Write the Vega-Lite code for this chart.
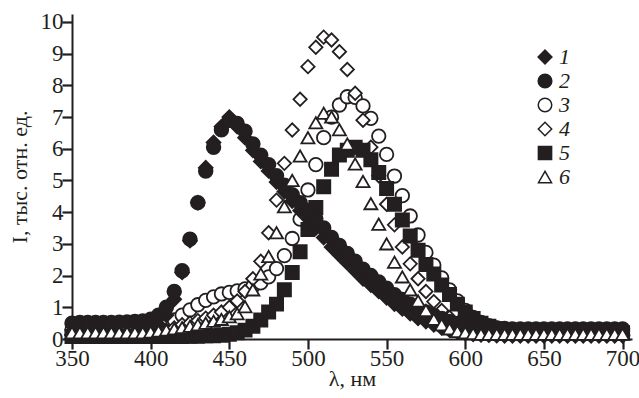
{
  "$schema": "https://vega.github.io/schema/vega-lite/v6.json",
  "width": 560,
  "height": 325,
  "autosize": "none",
  "padding": {"left": 72, "top": 14, "right": 7, "bottom": 59},
  "background": "white",
  "config": {
    "view": {"stroke": null},
    "font": "Liberation Serif, Times New Roman, serif",
    "axis": {
      "domainColor": "#231f20",
      "domainWidth": 2,
      "tickColor": "#231f20",
      "tickOpacity": 1,
      "tickWidth": 2.2,
      "tickSize": 10,
      "ticks": true,
      "zindex": 1,
      "grid": false,
      "labelFont": "Liberation Serif, Times New Roman, serif",
      "labelFontSize": 23,
      "labelColor": "#231f20",
      "titleFont": "Liberation Serif, Times New Roman, serif",
      "titleFontSize": 22,
      "titleFontWeight": "normal",
      "titleColor": "#231f20"
    }
  },
  "data": {
    "values": [
      {"s":"3","x":350,"y":0.3},{"s":"3","x":355,"y":0.3},{"s":"3","x":360,"y":0.3},{"s":"3","x":365,"y":0.3},{"s":"3","x":370,"y":0.3},{"s":"3","x":375,"y":0.3},{"s":"3","x":380,"y":0.3},{"s":"3","x":385,"y":0.32},{"s":"3","x":390,"y":0.33},{"s":"3","x":395,"y":0.35},
      {"s":"3","x":400,"y":0.38},{"s":"3","x":405,"y":0.42},{"s":"3","x":410,"y":0.5},{"s":"3","x":415,"y":0.6},{"s":"3","x":420,"y":0.75},{"s":"3","x":425,"y":0.92},{"s":"3","x":430,"y":1.08},{"s":"3","x":435,"y":1.22},{"s":"3","x":440,"y":1.33},{"s":"3","x":445,"y":1.42},
      {"s":"3","x":450,"y":1.47},{"s":"3","x":455,"y":1.52},{"s":"3","x":460,"y":1.58},{"s":"3","x":465,"y":1.66},{"s":"3","x":470,"y":1.77},{"s":"3","x":475,"y":1.96},{"s":"3","x":480,"y":2.22},{"s":"3","x":485,"y":2.63},{"s":"3","x":490,"y":3.17},{"s":"3","x":495,"y":3.78},
      {"s":"3","x":500,"y":4.7},{"s":"3","x":505,"y":5.5},{"s":"3","x":510,"y":6.35},{"s":"3","x":515,"y":7.0},{"s":"3","x":520,"y":7.38},{"s":"3","x":525,"y":7.64},{"s":"3","x":530,"y":7.62},{"s":"3","x":535,"y":7.35},{"s":"3","x":540,"y":6.96},{"s":"3","x":545,"y":6.4},
      {"s":"3","x":550,"y":5.82},{"s":"3","x":555,"y":5.14},{"s":"3","x":560,"y":4.52},{"s":"3","x":565,"y":3.88},{"s":"3","x":570,"y":3.28},{"s":"3","x":575,"y":2.73},{"s":"3","x":580,"y":2.33},{"s":"3","x":585,"y":1.93},{"s":"3","x":590,"y":1.55},{"s":"3","x":595,"y":1.2},
      {"s":"3","x":600,"y":0.9},{"s":"3","x":605,"y":0.68},{"s":"3","x":610,"y":0.52},{"s":"3","x":615,"y":0.42},{"s":"3","x":620,"y":0.35},{"s":"3","x":625,"y":0.3},{"s":"3","x":630,"y":0.27},{"s":"3","x":635,"y":0.25},{"s":"3","x":640,"y":0.25},{"s":"3","x":645,"y":0.25},
      {"s":"3","x":650,"y":0.25},{"s":"3","x":655,"y":0.25},{"s":"3","x":660,"y":0.25},{"s":"3","x":665,"y":0.25},{"s":"3","x":670,"y":0.25},{"s":"3","x":675,"y":0.25},{"s":"3","x":680,"y":0.25},{"s":"3","x":685,"y":0.25},{"s":"3","x":690,"y":0.25},{"s":"3","x":695,"y":0.25},{"s":"3","x":700,"y":0.25},

      {"s":"4","x":350,"y":0.15},{"s":"4","x":355,"y":0.15},{"s":"4","x":360,"y":0.15},{"s":"4","x":365,"y":0.15},{"s":"4","x":370,"y":0.15},{"s":"4","x":375,"y":0.15},{"s":"4","x":380,"y":0.15},{"s":"4","x":385,"y":0.15},{"s":"4","x":390,"y":0.15},{"s":"4","x":395,"y":0.15},
      {"s":"4","x":400,"y":0.18},{"s":"4","x":405,"y":0.22},{"s":"4","x":410,"y":0.28},{"s":"4","x":415,"y":0.35},{"s":"4","x":420,"y":0.45},{"s":"4","x":425,"y":0.5},{"s":"4","x":430,"y":0.58},{"s":"4","x":435,"y":0.66},{"s":"4","x":440,"y":0.75},{"s":"4","x":445,"y":0.85},
      {"s":"4","x":450,"y":1.0},{"s":"4","x":455,"y":1.2},{"s":"4","x":460,"y":1.5},{"s":"4","x":465,"y":1.9},{"s":"4","x":470,"y":2.45},{"s":"4","x":475,"y":3.35},{"s":"4","x":480,"y":4.38},{"s":"4","x":485,"y":5.54},{"s":"4","x":490,"y":6.59},{"s":"4","x":495,"y":7.56},
      {"s":"4","x":500,"y":8.59},{"s":"4","x":505,"y":9.2},{"s":"4","x":510,"y":9.52},{"s":"4","x":515,"y":9.43},{"s":"4","x":520,"y":9.06},{"s":"4","x":525,"y":8.5},{"s":"4","x":530,"y":7.75},{"s":"4","x":535,"y":6.9},{"s":"4","x":540,"y":6.05},{"s":"4","x":545,"y":5.15},
      {"s":"4","x":550,"y":4.25},{"s":"4","x":555,"y":3.6},{"s":"4","x":560,"y":2.9},{"s":"4","x":565,"y":2.37},{"s":"4","x":570,"y":1.9},{"s":"4","x":575,"y":1.5},{"s":"4","x":580,"y":1.18},{"s":"4","x":585,"y":0.9},{"s":"4","x":590,"y":0.68},{"s":"4","x":595,"y":0.5},
      {"s":"4","x":600,"y":0.38},{"s":"4","x":605,"y":0.28},{"s":"4","x":610,"y":0.22},{"s":"4","x":615,"y":0.18},{"s":"4","x":620,"y":0.16},{"s":"4","x":625,"y":0.15},{"s":"4","x":630,"y":0.15},{"s":"4","x":635,"y":0.15},{"s":"4","x":640,"y":0.15},{"s":"4","x":645,"y":0.15},
      {"s":"4","x":650,"y":0.15},{"s":"4","x":655,"y":0.15},{"s":"4","x":660,"y":0.15},{"s":"4","x":665,"y":0.15},{"s":"4","x":670,"y":0.15},{"s":"4","x":675,"y":0.15},{"s":"4","x":680,"y":0.15},{"s":"4","x":685,"y":0.15},{"s":"4","x":690,"y":0.15},{"s":"4","x":695,"y":0.15},{"s":"4","x":700,"y":0.15},

      {"s":"5","x":350,"y":0.08},{"s":"5","x":355,"y":0.08},{"s":"5","x":360,"y":0.08},{"s":"5","x":365,"y":0.08},{"s":"5","x":370,"y":0.08},{"s":"5","x":375,"y":0.08},{"s":"5","x":380,"y":0.08},{"s":"5","x":385,"y":0.08},{"s":"5","x":390,"y":0.08},{"s":"5","x":395,"y":0.08},
      {"s":"5","x":400,"y":0.08},{"s":"5","x":405,"y":0.08},{"s":"5","x":410,"y":0.08},{"s":"5","x":415,"y":0.08},{"s":"5","x":420,"y":0.08},{"s":"5","x":425,"y":0.09},{"s":"5","x":430,"y":0.09},{"s":"5","x":435,"y":0.1},{"s":"5","x":440,"y":0.1},{"s":"5","x":445,"y":0.12},
      {"s":"5","x":450,"y":0.15},{"s":"5","x":455,"y":0.2},{"s":"5","x":460,"y":0.28},{"s":"5","x":465,"y":0.4},{"s":"5","x":470,"y":0.6},{"s":"5","x":475,"y":0.85},{"s":"5","x":480,"y":1.1},{"s":"5","x":485,"y":1.55},{"s":"5","x":490,"y":2.1},{"s":"5","x":495,"y":2.75},
      {"s":"5","x":500,"y":3.45},{"s":"5","x":505,"y":4.15},{"s":"5","x":510,"y":4.8},{"s":"5","x":515,"y":5.35},{"s":"5","x":520,"y":5.8},{"s":"5","x":525,"y":5.95},{"s":"5","x":530,"y":6.05},{"s":"5","x":535,"y":5.95},{"s":"5","x":540,"y":5.65},{"s":"5","x":545,"y":5.25},
      {"s":"5","x":550,"y":4.75},{"s":"5","x":555,"y":4.25},{"s":"5","x":560,"y":3.75},{"s":"5","x":565,"y":3.25},{"s":"5","x":570,"y":2.8},{"s":"5","x":575,"y":2.35},{"s":"5","x":580,"y":2.05},{"s":"5","x":585,"y":1.7},{"s":"5","x":590,"y":1.4},{"s":"5","x":595,"y":1.1},
      {"s":"5","x":600,"y":0.85},{"s":"5","x":605,"y":0.65},{"s":"5","x":610,"y":0.5},{"s":"5","x":615,"y":0.4},{"s":"5","x":620,"y":0.32},{"s":"5","x":625,"y":0.27},{"s":"5","x":630,"y":0.24},{"s":"5","x":635,"y":0.22},{"s":"5","x":640,"y":0.2},{"s":"5","x":645,"y":0.2},
      {"s":"5","x":650,"y":0.2},{"s":"5","x":655,"y":0.2},{"s":"5","x":660,"y":0.2},{"s":"5","x":665,"y":0.2},{"s":"5","x":670,"y":0.2},{"s":"5","x":675,"y":0.2},{"s":"5","x":680,"y":0.2},{"s":"5","x":685,"y":0.2},{"s":"5","x":690,"y":0.2},{"s":"5","x":695,"y":0.2},{"s":"5","x":700,"y":0.2},

      {"s":"1","x":350,"y":0.12},{"s":"1","x":355,"y":0.12},{"s":"1","x":360,"y":0.12},{"s":"1","x":365,"y":0.13},{"s":"1","x":370,"y":0.13},{"s":"1","x":375,"y":0.14},{"s":"1","x":380,"y":0.15},{"s":"1","x":385,"y":0.17},{"s":"1","x":390,"y":0.2},{"s":"1","x":395,"y":0.24},
      {"s":"1","x":400,"y":0.3},{"s":"1","x":405,"y":0.45},{"s":"1","x":410,"y":0.75},{"s":"1","x":415,"y":1.25},{"s":"1","x":420,"y":2.1},{"s":"1","x":425,"y":3.1},{"s":"1","x":430,"y":4.3},{"s":"1","x":435,"y":5.4},{"s":"1","x":440,"y":6.2},{"s":"1","x":445,"y":6.7},
      {"s":"1","x":450,"y":7.0},{"s":"1","x":455,"y":6.7},{"s":"1","x":460,"y":6.35},{"s":"1","x":465,"y":5.95},{"s":"1","x":470,"y":5.6},{"s":"1","x":475,"y":5.3},{"s":"1","x":480,"y":4.95},{"s":"1","x":485,"y":4.65},{"s":"1","x":490,"y":4.35},{"s":"1","x":495,"y":4.05},
      {"s":"1","x":500,"y":3.8},{"s":"1","x":505,"y":3.5},{"s":"1","x":510,"y":3.2},{"s":"1","x":515,"y":2.9},{"s":"1","x":520,"y":2.65},{"s":"1","x":525,"y":2.4},{"s":"1","x":530,"y":2.15},{"s":"1","x":535,"y":1.9},{"s":"1","x":540,"y":1.7},{"s":"1","x":545,"y":1.5},
      {"s":"1","x":550,"y":1.3},{"s":"1","x":555,"y":1.1},{"s":"1","x":560,"y":0.95},{"s":"1","x":565,"y":0.8},{"s":"1","x":570,"y":0.65},{"s":"1","x":575,"y":0.55},{"s":"1","x":580,"y":0.45},{"s":"1","x":585,"y":0.35},{"s":"1","x":590,"y":0.28},{"s":"1","x":595,"y":0.22},
      {"s":"1","x":600,"y":0.18},{"s":"1","x":605,"y":0.15},{"s":"1","x":610,"y":0.13},{"s":"1","x":615,"y":0.12},{"s":"1","x":620,"y":0.11},{"s":"1","x":625,"y":0.1},{"s":"1","x":630,"y":0.1},{"s":"1","x":635,"y":0.1},{"s":"1","x":640,"y":0.1},{"s":"1","x":645,"y":0.1},
      {"s":"1","x":650,"y":0.1},{"s":"1","x":655,"y":0.1},{"s":"1","x":660,"y":0.1},{"s":"1","x":665,"y":0.1},{"s":"1","x":670,"y":0.1},{"s":"1","x":675,"y":0.1},{"s":"1","x":680,"y":0.1},{"s":"1","x":685,"y":0.1},{"s":"1","x":690,"y":0.1},{"s":"1","x":695,"y":0.1},{"s":"1","x":700,"y":0.1},

      {"s":"2","x":350,"y":0.5},{"s":"2","x":355,"y":0.52},{"s":"2","x":360,"y":0.52},{"s":"2","x":365,"y":0.52},{"s":"2","x":370,"y":0.52},{"s":"2","x":375,"y":0.52},{"s":"2","x":380,"y":0.53},{"s":"2","x":385,"y":0.54},{"s":"2","x":390,"y":0.55},{"s":"2","x":395,"y":0.57},
      {"s":"2","x":400,"y":0.62},{"s":"2","x":405,"y":0.75},{"s":"2","x":410,"y":1.0},{"s":"2","x":415,"y":1.5},{"s":"2","x":420,"y":2.15},{"s":"2","x":425,"y":3.15},{"s":"2","x":430,"y":4.3},{"s":"2","x":435,"y":5.3},{"s":"2","x":440,"y":6.05},{"s":"2","x":445,"y":6.6},
      {"s":"2","x":450,"y":6.9},{"s":"2","x":455,"y":6.8},{"s":"2","x":460,"y":6.55},{"s":"2","x":465,"y":6.15},{"s":"2","x":470,"y":5.8},{"s":"2","x":475,"y":5.5},{"s":"2","x":480,"y":5.15},{"s":"2","x":485,"y":4.85},{"s":"2","x":490,"y":4.55},{"s":"2","x":495,"y":4.3},
      {"s":"2","x":500,"y":4.05},{"s":"2","x":505,"y":3.8},{"s":"2","x":510,"y":3.5},{"s":"2","x":515,"y":3.2},{"s":"2","x":520,"y":2.95},{"s":"2","x":525,"y":2.7},{"s":"2","x":530,"y":2.45},{"s":"2","x":535,"y":2.2},{"s":"2","x":540,"y":2.0},{"s":"2","x":545,"y":1.8},
      {"s":"2","x":550,"y":1.6},{"s":"2","x":555,"y":1.4},{"s":"2","x":560,"y":1.25},{"s":"2","x":565,"y":1.1},{"s":"2","x":570,"y":0.95},{"s":"2","x":575,"y":0.85},{"s":"2","x":580,"y":0.75},{"s":"2","x":585,"y":0.65},{"s":"2","x":590,"y":0.55},{"s":"2","x":595,"y":0.48},
      {"s":"2","x":600,"y":0.43},{"s":"2","x":605,"y":0.4},{"s":"2","x":610,"y":0.37},{"s":"2","x":615,"y":0.35},{"s":"2","x":620,"y":0.34},{"s":"2","x":625,"y":0.33},{"s":"2","x":630,"y":0.32},{"s":"2","x":635,"y":0.32},{"s":"2","x":640,"y":0.32},{"s":"2","x":645,"y":0.32},
      {"s":"2","x":650,"y":0.32},{"s":"2","x":655,"y":0.32},{"s":"2","x":660,"y":0.32},{"s":"2","x":665,"y":0.32},{"s":"2","x":670,"y":0.32},{"s":"2","x":675,"y":0.32},{"s":"2","x":680,"y":0.32},{"s":"2","x":685,"y":0.32},{"s":"2","x":690,"y":0.32},{"s":"2","x":695,"y":0.32},{"s":"2","x":700,"y":0.32},

      {"s":"6","x":350,"y":0.2},{"s":"6","x":355,"y":0.2},{"s":"6","x":360,"y":0.2},{"s":"6","x":365,"y":0.2},{"s":"6","x":370,"y":0.2},{"s":"6","x":375,"y":0.2},{"s":"6","x":380,"y":0.2},{"s":"6","x":385,"y":0.2},{"s":"6","x":390,"y":0.2},{"s":"6","x":395,"y":0.2},
      {"s":"6","x":400,"y":0.22},{"s":"6","x":405,"y":0.25},{"s":"6","x":410,"y":0.28},{"s":"6","x":415,"y":0.32},{"s":"6","x":420,"y":0.36},{"s":"6","x":425,"y":0.4},{"s":"6","x":430,"y":0.45},{"s":"6","x":435,"y":0.5},{"s":"6","x":440,"y":0.56},{"s":"6","x":445,"y":0.62},
      {"s":"6","x":450,"y":0.7},{"s":"6","x":455,"y":0.8},{"s":"6","x":460,"y":1.02},{"s":"6","x":465,"y":1.55},{"s":"6","x":470,"y":2.05},{"s":"6","x":475,"y":2.6},{"s":"6","x":480,"y":3.35},{"s":"6","x":485,"y":4.17},{"s":"6","x":490,"y":5.0},{"s":"6","x":495,"y":5.77},
      {"s":"6","x":500,"y":6.35},{"s":"6","x":505,"y":6.82},{"s":"6","x":510,"y":7.12},{"s":"6","x":515,"y":7.0},{"s":"6","x":520,"y":6.6},{"s":"6","x":525,"y":6.15},{"s":"6","x":530,"y":5.52},{"s":"6","x":535,"y":4.97},{"s":"6","x":540,"y":4.27},{"s":"6","x":545,"y":3.62},
      {"s":"6","x":550,"y":3.0},{"s":"6","x":555,"y":2.42},{"s":"6","x":560,"y":1.96},{"s":"6","x":565,"y":1.55},{"s":"6","x":570,"y":1.2},{"s":"6","x":575,"y":0.9},{"s":"6","x":580,"y":0.62},{"s":"6","x":585,"y":0.45},{"s":"6","x":590,"y":0.32},{"s":"6","x":595,"y":0.24},
      {"s":"6","x":600,"y":0.2},{"s":"6","x":605,"y":0.17},{"s":"6","x":610,"y":0.15},{"s":"6","x":615,"y":0.15},{"s":"6","x":620,"y":0.15},{"s":"6","x":625,"y":0.15},{"s":"6","x":630,"y":0.15},{"s":"6","x":635,"y":0.15},{"s":"6","x":640,"y":0.15},{"s":"6","x":645,"y":0.15},
      {"s":"6","x":650,"y":0.15},{"s":"6","x":655,"y":0.15},{"s":"6","x":660,"y":0.15},{"s":"6","x":665,"y":0.15},{"s":"6","x":670,"y":0.15},{"s":"6","x":675,"y":0.15},{"s":"6","x":680,"y":0.15},{"s":"6","x":685,"y":0.15},{"s":"6","x":690,"y":0.15},{"s":"6","x":695,"y":0.15},{"s":"6","x":700,"y":0.15}
    ]
  },
  "mark": {"type": "point", "filled": true, "stroke": "#231f20", "strokeWidth": 1.8, "opacity": 1},
  "encoding": {
    "x": {
      "field": "x", "type": "quantitative",
      "scale": {"domain": [350, 706], "nice": false, "zero": false},
      "axis": {
        "values": [350, 400, 450, 500, 550, 600, 650, 700], "title": "λ, нм", "labelPadding": -2, "labelFlush": false, "titleY": 46, "titleBaseline": "alphabetic",
        "encode": {"ticks": {"update": {"y2": {"value": -10}}}}
      }
    },
    "y": {
      "field": "y", "type": "quantitative",
      "scale": {"domain": [0, 10.25], "nice": false},
      "axis": {
        "values": [0, 1, 2, 3, 4, 5, 6, 7, 8, 9, 10], "title": "I, тыс. отн. ед.", "labelPadding": -1, "titleX": -46, "titleBaseline": "alphabetic",
        "encode": {"ticks": {"update": {"x2": {"value": 10}}}}
      }
    },
    "shape": {
      "field": "s", "type": "nominal",
      "scale": {"domain": ["1", "2", "3", "4", "5", "6"], "range": ["diamond", "circle", "circle", "diamond", "square", "triangle-up"]},
      "legend": {
        "title": null, "orient": "none", "legendX": 462, "legendY": 32,
        "labelFont": "Liberation Serif, Times New Roman, serif", "labelFontStyle": "italic", "labelFontSize": 22, "labelColor": "#231f20",
        "rowPadding": 2, "labelOffset": 3,
        "encode": {"symbols": {"update": {"stroke": {"value": "#231f20"}, "strokeWidth": {"value": 1.8}}}}
      }
    },
    "fill": {
      "field": "s", "type": "nominal",
      "scale": {"domain": ["1", "2", "3", "4", "5", "6"], "range": ["#231f20", "#231f20", "white", "white", "#231f20", "white"]},
      "legend": {
        "title": null, "orient": "none", "legendX": 462, "legendY": 32,
        "labelFont": "Liberation Serif, Times New Roman, serif", "labelFontStyle": "italic", "labelFontSize": 22, "labelColor": "#231f20",
        "rowPadding": 2, "labelOffset": 3,
        "encode": {"symbols": {"update": {"stroke": {"value": "#231f20"}, "strokeWidth": {"value": 1.8}}}}
      }
    },
    "size": {
      "field": "s", "type": "nominal",
      "scale": {"domain": ["1", "2", "3", "4", "5", "6"], "range": [190, 170, 130, 170, 150, 260]},
      "legend": {
        "title": null, "orient": "none", "legendX": 462, "legendY": 32,
        "labelFont": "Liberation Serif, Times New Roman, serif", "labelFontStyle": "italic", "labelFontSize": 22, "labelColor": "#231f20",
        "rowPadding": 2, "labelOffset": 3,
        "encode": {"symbols": {"update": {"stroke": {"value": "#231f20"}, "strokeWidth": {"value": 1.8}}}}
      }
    }
  }
}
